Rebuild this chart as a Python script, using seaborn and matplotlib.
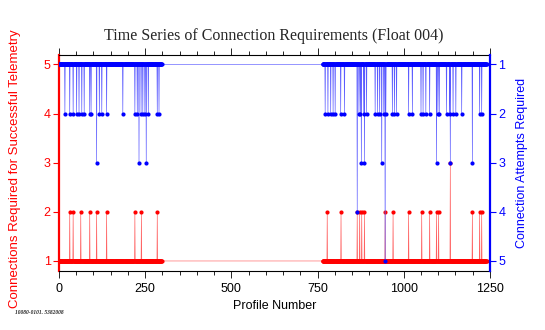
import matplotlib
matplotlib.use("Agg")
import matplotlib.pyplot as plt
import seaborn as sns
import pandas as pd
from matplotlib.ticker import MultipleLocator

# ---- data ----
segments = [(0, 298), (765, 1240)]          # profile ranges with data
baseline = 1                                 # value of every profile not listed below

red_level2 = [31, 41, 63, 89, 109, 138, 220, 239, 285, 778, 818, 865, 872, 878, 886,
              946, 969, 1014, 1052, 1075, 1095, 1101, 1199, 1220, 1226]
red_level3 = [1135]

blue_level2 = [17, 31, 41, 51, 58, 66, 73, 89, 93, 117, 124, 138, 185, 220, 227, 238,
               243, 249, 259, 285, 290, 772, 780, 788, 795, 801, 817, 828, 870, 874,
               884, 892, 917, 924, 930, 942, 948, 967, 973, 979, 1014, 1025, 1050,
               1056, 1064, 1075, 1099, 1103, 1124, 1133, 1143, 1151, 1168, 1220, 1226]
blue_level3 = [109, 232, 253, 877, 886, 936, 1095, 1135, 1199]
blue_level4 = [865]
blue_level5 = [946]

x_ticks = [0, 250, 500, 750, 1000, 1250]
y_ticks = [1, 2, 3, 4, 5]

title = "Time Series of Connection Requirements (Float 004)"
xlabel = "Profile Number"
ylabel_left = "Connections Required for Successful Telemetry"
ylabel_right = "Connection Attempts Required"
stamp = "10080-0101. 5382008"

# ---- build series ----
profiles = [p for a, b in segments for p in range(a, b + 1)]
red = {p: baseline for p in profiles}
for p in red_level2:
    red[p] = 2
for p in red_level3:
    red[p] = 3
blue = {p: baseline for p in profiles}
for lvl, lst in [(2, blue_level2), (3, blue_level3), (4, blue_level4), (5, blue_level5)]:
    for p in lst:
        blue[p] = lvl

df = pd.DataFrame({"profile": profiles,
                   "connections": [red[p] for p in profiles],
                   "attempts": [blue[p] for p in profiles]})

# ---- plot ----
sns.set_style("ticks")
plt.rcParams["font.family"] = ["Liberation Sans", "DejaVu Sans"]

fig = plt.figure(figsize=(5.45, 3.30), dpi=100)
ax = fig.add_axes([0.1083, 0.1794, 0.7907, 0.6554])
ax2 = ax.twinx()

RED = "#ff0000"
BLUE = "#0000ff"

sns.lineplot(data=df, x="profile", y="connections", ax=ax, color=RED,
             estimator=None, sort=False, linewidth=0.45, marker="o",
             markersize=3, markeredgewidth=0)
sns.lineplot(data=df, x="profile", y="attempts", ax=ax2, color=BLUE,
             estimator=None, sort=False, linewidth=0.45, marker="o",
             markersize=3, markeredgewidth=0)
# lighter connecting lines, solid markers
for a, light, solid in [(ax, "#ff6060", RED), (ax2, "#5a5aff", BLUE)]:
    for ln in a.lines:
        ln.set_color(light)
        ln.set_markerfacecolor(solid)
        ln.set_markeredgecolor(solid)

ax.set_xlim(0, 1250)
ax.set_ylim(0.8, 5.2)
ax2.set_ylim(5.2, 0.8)

ax.set_xticks(x_ticks)
ax.xaxis.set_minor_locator(MultipleLocator(50))
ax.set_yticks(y_ticks)
ax2.set_yticks(y_ticks)

ax.tick_params(axis="x", which="both", top=True, bottom=True, direction="out",
               labelsize=9, colors="black", width=0.6)
ax.tick_params(axis="x", which="major", length=5)
ax.tick_params(axis="x", which="minor", length=3)
ax.tick_params(axis="y", colors=RED, labelsize=9, length=4, width=0.8, pad=2)
ax2.tick_params(axis="y", colors=BLUE, labelsize=9, length=4, width=0.8, pad=2)

for s in ["top", "bottom"]:
    ax.spines[s].set_color("black")
    ax.spines[s].set_linewidth(0.8)
ax.spines["left"].set_color(RED)
ax.spines["left"].set_linewidth(1.6)
ax.spines["right"].set_visible(False)
for s in ["top", "bottom", "left"]:
    ax2.spines[s].set_visible(False)
ax2.spines["right"].set_color(BLUE)
ax2.spines["right"].set_linewidth(1.6)

ax.set_xlabel(xlabel, fontsize=9, color="black", labelpad=4)
ax.set_ylabel(ylabel_left, fontsize=9.5, color=RED)
ax.yaxis.set_label_coords(-0.088, 0.47)
ax2.set_ylabel(ylabel_right, fontsize=9, color=BLUE, labelpad=8)

fig.text(0.503, 0.89, title, ha="center", va="center", fontsize=11.5,
         family=["Liberation Serif", "DejaVu Serif"])
fig.text(0.027, 0.052, stamp, ha="left", va="center", fontsize=4,
         style="italic", weight="bold", family=["Liberation Serif", "DejaVu Serif"])

fig.savefig("out.png", dpi=100)
